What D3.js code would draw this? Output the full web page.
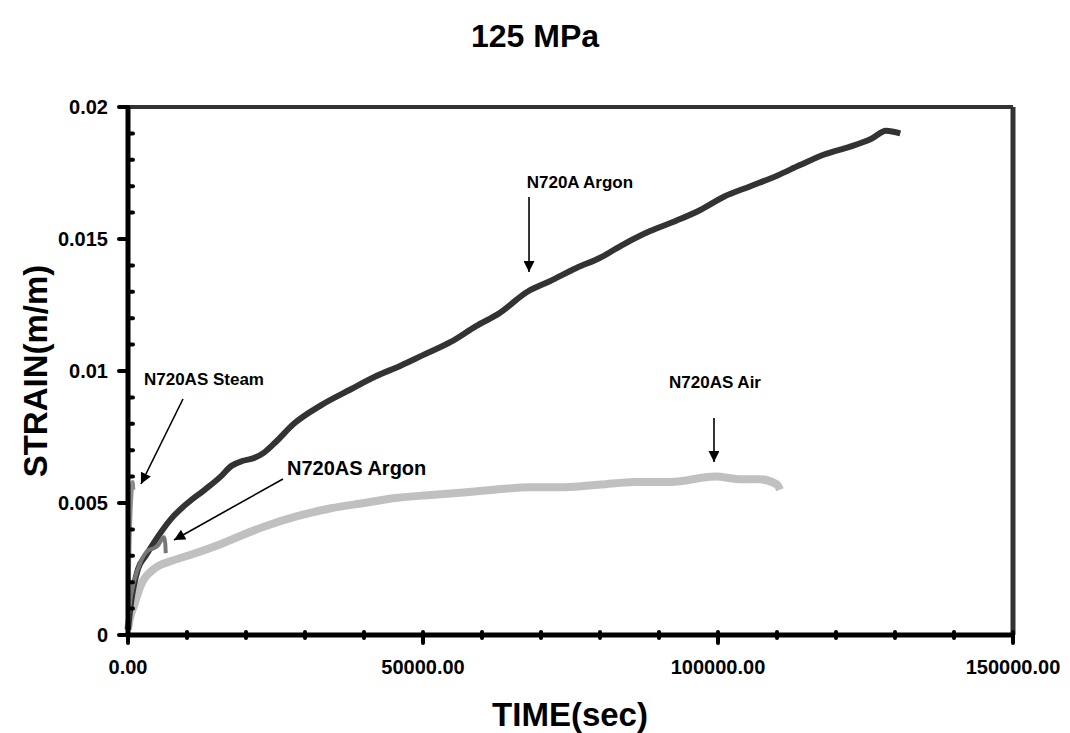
<!DOCTYPE html>
<html>
<head>
<meta charset="utf-8">
<script src="https://cdn.jsdelivr.net/npm/d3@7"></script>
<style>
  body { margin: 0; background: #fff; }
  text { font-family: Arial, "Liberation Sans", sans-serif; font-weight: bold; }
</style>
</head>
<body>
<div id="chart"></div>
<script>
// values
let argonA_t = [0, 500, 1700, 3000, 4400, 7300, 10100, 13000, 15700, 17500, 19500, 21300, 23000, 25000, 28100, 32700, 37700, 42000, 46200, 50000, 54700, 59000, 63000, 67700, 71500, 76000, 80100, 84000, 88500, 93000, 97000, 101000, 105500, 110000, 113900, 118000, 122400, 126000, 128500, 130900]
let argonA_v = [0.0002, 0.0012, 0.0025, 0.0030, 0.0035, 0.0044, 0.0050, 0.0055, 0.0060, 0.0064, 0.0066, 0.0067, 0.0069, 0.0073, 0.0080, 0.0087, 0.0093, 0.0098, 0.0102, 0.0106, 0.0111, 0.0117, 0.0122, 0.0130, 0.0134, 0.0139, 0.0143, 0.0148, 0.0153, 0.0157, 0.0161, 0.0166, 0.0170, 0.0174, 0.0178, 0.0182, 0.0185, 0.0188, 0.0191, 0.0190]

let air_t = [0, 300, 1000, 2200, 4400, 7300, 10100, 15200, 17400, 23000, 28700, 34400, 40000, 45700, 51300, 56900, 62000, 68200, 74000, 80100, 86000, 92000, 99500, 104000, 107000, 110000, 110500]
let air_v = [0.0002, 0.0006, 0.0011, 0.0019, 0.0025, 0.0028, 0.0030, 0.0034, 0.0036, 0.0041, 0.0045, 0.0048, 0.0050, 0.0052, 0.0053, 0.0054, 0.0055, 0.0056, 0.0056, 0.0057, 0.0058, 0.0058, 0.0060, 0.0059, 0.0059, 0.0057, 0.0055]

let steam_t = [0, 100, 200, 300, 400, 500, 600, 700, 800, 900]
let steam_v = [0.0003, 0.0015, 0.0028, 0.0038, 0.0045, 0.0050, 0.0054, 0.0057, 0.0058, 0.0055]

let argonAS_t = [0, 400, 1000, 2200, 3400, 4500, 5100, 6100, 6300, 6400]
let argonAS_v = [0.0004, 0.0013, 0.0020, 0.0028, 0.0032, 0.0033, 0.0034, 0.0037, 0.0035, 0.0031]

let xMajor = [0, 50000, 100000, 150000]
let xLabels = ['0.00', '50000.00', '100000.00', '150000.00']
let yMajor = [0, 0.005, 0.01, 0.015, 0.02]
let yLabels = ['0', '0.005', '0.01', '0.015', '0.02']

// label text, label point, arrow start, arrow end (data coords)
let notes = [
	{text: 'N720A Argon', anchor: 'middle', size: 17, lx: 76600, ly: 0.01716, x1: 67970, y1: 0.01659, x2: 67970, y2: 0.01375},
	{text: 'N720AS Steam', anchor: 'middle', size: 17, lx: 12880, ly: 0.0097, x1: 9320, y1: 0.00894, x2: 2200, y2: 0.00572},
	{text: 'N720AS Argon', anchor: 'start', size: 20, lx: 26950, ly: 0.00633, x1: 26270, y1: 0.00591, x2: 7800, y2: 0.0036},
	{text: 'N720AS Air', anchor: 'middle', size: 17, lx: 99490, ly: 0.00958, x1: 99320, y1: 0.00822, x2: 99320, y2: 0.00655}
]

let width = 1070, height = 733
let svg = d3.select('#chart').append('svg')
	.attr('width', width)
	.attr('height', height)

let x = d3.scaleLinear().domain([0, 150000]).range([128, 1013])
let y = d3.scaleLinear().domain([0, 0.02]).range([635, 107])

// title
svg.append('text')
	.attr('x', 535).attr('y', 47)
	.attr('text-anchor', 'middle')
	.attr('font-size', 32)
	.text('125 MPa')

// frame: top and right in dark grey
svg.append('line')
	.attr('x1', x(0)).attr('x2', x(150000))
	.attr('y1', y(0.02)).attr('y2', y(0.02))
	.attr('stroke', '#333').attr('stroke-width', 4)
svg.append('line')
	.attr('x1', x(150000)).attr('x2', x(150000))
	.attr('y1', y(0.02)).attr('y2', y(0))
	.attr('stroke', '#333').attr('stroke-width', 5)

// series
function series(ts, vs){
	return ts.map(function(t, i){ return {x: t, y: vs[i]} })
}
let line = d3.line()
	.curve(d3.curveMonotoneX)
	.x(function(d){ return x(d.x) })
	.y(function(d){ return y(d.y) })

let lines = [
	{data: series(air_t, air_v), colour: '#c0c0c0', w: 8},
	{data: series(argonA_t, argonA_v), colour: '#333333', w: 6},
	{data: series(argonAS_t, argonAS_v), colour: '#777777', w: 4},
	{data: series(steam_t, steam_v), colour: '#8c8c8c', w: 4}
]
lines.forEach(function(l){
	svg.append('path')
		.datum(l.data)
		.attr('fill', 'none')
		.attr('stroke', l.colour)
		.attr('stroke-width', l.w)
		.attr('stroke-linejoin', 'round')
		.attr('d', line)
})

// axes
let gx = svg.append('g')
gx.append('line')
	.attr('x1', x(0)).attr('x2', x(150000))
	.attr('y1', y(0)).attr('y2', y(0))
	.attr('stroke', '#000').attr('stroke-width', 5)
gx.selectAll('.minor')
	.data(d3.range(10000, 150000, 10000).filter(function(d){ return d % 50000 != 0 }))
	.enter().append('line')
	.attr('x1', function(d){ return x(d) }).attr('x2', function(d){ return x(d) })
	.attr('y1', y(0) - 3).attr('y2', y(0) + 3)
	.attr('stroke', '#000').attr('stroke-width', 4).attr('stroke-linecap', 'round')
gx.selectAll('.major')
	.data(xMajor)
	.enter().append('line')
	.attr('x1', function(d){ return x(d) }).attr('x2', function(d){ return x(d) })
	.attr('y1', y(0) - 3).attr('y2', y(0) + 8)
	.attr('stroke', '#000').attr('stroke-width', 4).attr('stroke-linecap', 'round')
gx.selectAll('.lab')
	.data(xMajor)
	.enter().append('text')
	.attr('x', function(d){ return x(d) })
	.attr('y', 674)
	.attr('text-anchor', 'middle')
	.attr('font-size', 20)
	.text(function(d, i){ return xLabels[i] })

let gy = svg.append('g')
gy.append('line')
	.attr('x1', x(0)).attr('x2', x(0))
	.attr('y1', y(0)).attr('y2', y(0.02))
	.attr('stroke', '#000').attr('stroke-width', 5)
gy.selectAll('.minor')
	.data(d3.range(1, 20).map(function(i){ return i * 0.001 }).filter(function(d, i){ return (i + 1) % 5 != 0 }))
	.enter().append('line')
	.attr('x1', x(0)).attr('x2', x(0) + 5)
	.attr('y1', function(d){ return y(d) }).attr('y2', function(d){ return y(d) })
	.attr('stroke', '#000').attr('stroke-width', 4).attr('stroke-linecap', 'round')
gy.selectAll('.major')
	.data(yMajor)
	.enter().append('line')
	.attr('x1', x(0) - 9).attr('x2', x(0))
	.attr('y1', function(d){ return y(d) }).attr('y2', function(d){ return y(d) })
	.attr('stroke', '#000').attr('stroke-width', 4).attr('stroke-linecap', 'round')
gy.selectAll('.lab')
	.data(yMajor)
	.enter().append('text')
	.attr('x', 108)
	.attr('y', function(d){ return y(d) })
	.attr('dy', '0.35em')
	.attr('text-anchor', 'end')
	.attr('font-size', 20)
	.text(function(d, i){ return yLabels[i] })

// axis titles
svg.append('text')
	.attr('x', 570).attr('y', 726)
	.attr('text-anchor', 'middle')
	.attr('font-size', 33)
	.text('TIME(sec)')
svg.append('text')
	.attr('transform', 'translate(47,371) rotate(-90)')
	.attr('text-anchor', 'middle')
	.attr('font-size', 33)
	.text('STRAIN(m/m)')

// annotations with arrows
svg.append('defs').append('marker')
	.attr('id', 'arrow')
	.attr('viewBox', '0 0 10 10')
	.attr('refX', 10).attr('refY', 5)
	.attr('markerWidth', 12).attr('markerHeight', 11)
	.attr('markerUnits', 'userSpaceOnUse')
	.attr('orient', 'auto')
	.append('path')
	.attr('d', 'M0,0 L10,5 L0,10 z')
	.attr('fill', '#000')

notes.forEach(function(n){
	svg.append('text')
		.attr('x', x(n.lx)).attr('y', y(n.ly))
		.attr('dy', '0.35em')
		.attr('text-anchor', n.anchor)
		.attr('font-size', n.size)
		.text(n.text)
	svg.append('line')
		.attr('x1', x(n.x1)).attr('y1', y(n.y1))
		.attr('x2', x(n.x2)).attr('y2', y(n.y2))
		.attr('stroke', '#000').attr('stroke-width', 1.6)
		.attr('marker-end', 'url(#arrow)')
})
</script>
</body>
</html>
